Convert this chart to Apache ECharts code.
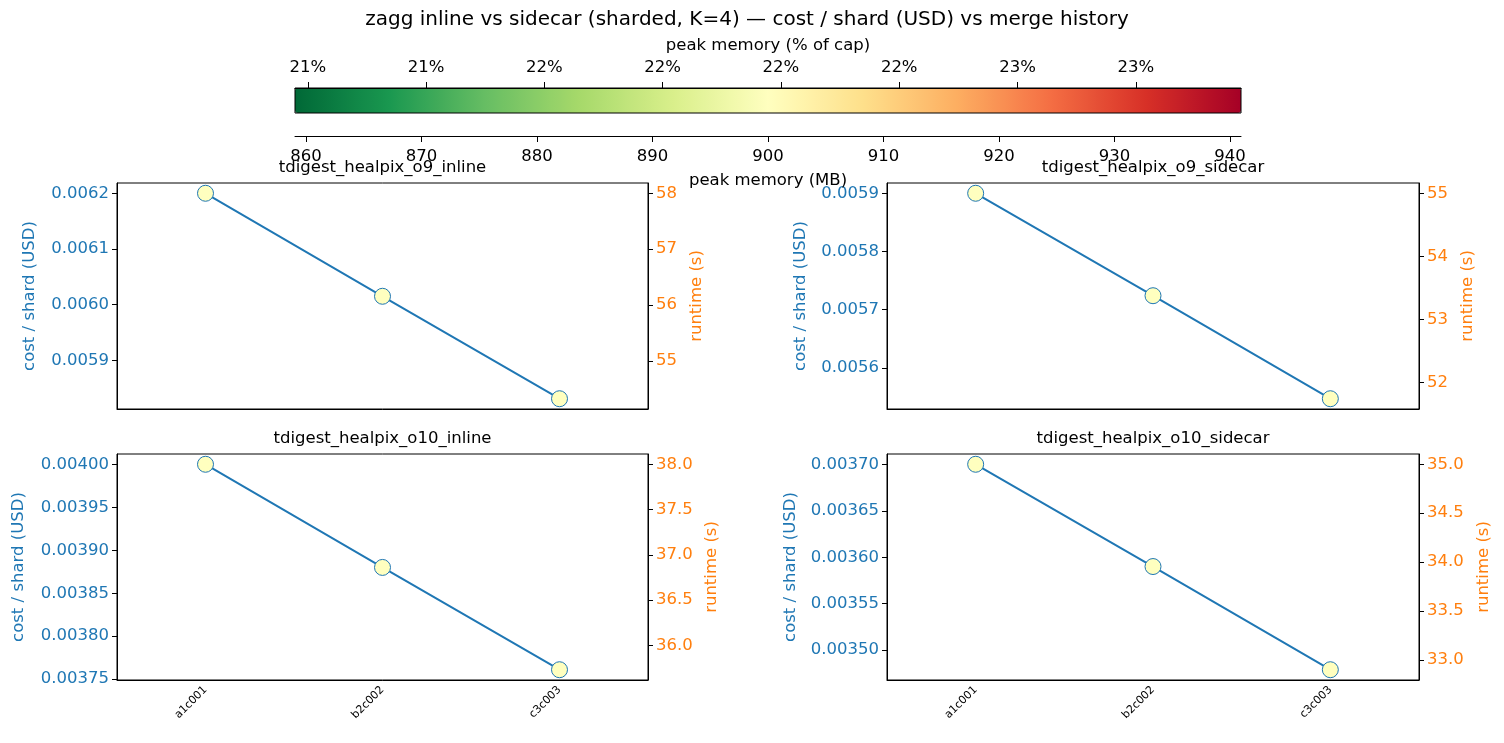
<!DOCTYPE html>
<html lang="en">
<head>
<meta charset="UTF-8">
<title>zagg inline vs sidecar</title>
<style>html,body{margin:0;padding:0;background:#fff;}</style>
</head>
<body>
<div id="main" style="width:1504px;height:743px"></div>
<script src="https://cdn.jsdelivr.net/npm/echarts@6/dist/echarts.min.js"></script>
<script>
    var chart = echarts.init(document.getElementById('main'));

    // data
    var categories = ['a1c001', 'b2c002', 'c3c003'];
    var panelTitles = ['tdigest_healpix_o9_inline', 'tdigest_healpix_o9_sidecar',
                       'tdigest_healpix_o10_inline', 'tdigest_healpix_o10_sidecar'];

    var costO9Inline   = [0.0062, 0.006015, 0.005831];
    var costO9Sidecar  = [0.0059, 0.005724, 0.005547];
    var costO10Inline  = [0.0040, 0.003880, 0.003761];
    var costO10Sidecar = [0.0037, 0.003590, 0.003479];

    var runO9Inline   = [58.0, 56.15, 54.32];
    var runO9Sidecar  = [55.0, 53.38, 51.74];
    var runO10Inline  = [38.0, 36.87, 35.73];
    var runO10Sidecar = [35.0, 33.95, 32.90];

    var memO9Inline   = [900, 900, 900];
    var memO9Sidecar  = [900, 900, 900];
    var memO10Inline  = [900, 900, 900];
    var memO10Sidecar = [900, 900, 900];

    // tick labels
    var costTicksO9Inline   = [0.0059, 0.0060, 0.0061, 0.0062];
    var costTicksO9Sidecar  = [0.0056, 0.0057, 0.0058, 0.0059];
    var costTicksO10Inline  = [0.00375, 0.00380, 0.00385, 0.00390, 0.00395, 0.00400];
    var costTicksO10Sidecar = [0.00350, 0.00355, 0.00360, 0.00365, 0.00370];
    var runTicksO9Inline   = [55, 56, 57, 58];
    var runTicksO9Sidecar  = [52, 53, 54, 55];
    var runTicksO10Inline  = [36.0, 36.5, 37.0, 37.5, 38.0];
    var runTicksO10Sidecar = [33.0, 33.5, 34.0, 34.5, 35.0];

    var memCap = 4096;               // MB
    var memMin = 859.05, memMax = 940.95;
    var memTicks = [860, 870, 880, 890, 900, 910, 920, 930, 940];
    var pctTicks = [21, 21.25, 21.5, 21.75, 22, 22.25, 22.5, 22.75];

    // RdYlGn reversed
    var rdYlGnR = ['#006837', '#1a9850', '#66bd63', '#a6d96a', '#d9ef8b', '#ffffbf',
                   '#fee08b', '#fdae61', '#f46d43', '#d73027', '#a50026'];

    var BLUE = '#1f77b4', ORANGE = '#ff7f0e';
    var FONT = 'DejaVu Sans';
    var FS = 16.5;

    var panels = [
        {cost: costO9Inline, run: runO9Inline, mem: memO9Inline, cTicks: costTicksO9Inline, rTicks: runTicksO9Inline, cDec: 4, rDec: 0,
         rect: {left: 117, top: 183, width: 531, height: 226}, lGap: 79, rGap: 40, xLabels: false},
        {cost: costO9Sidecar, run: runO9Sidecar, mem: memO9Sidecar, cTicks: costTicksO9Sidecar, rTicks: runTicksO9Sidecar, cDec: 4, rDec: 0,
         rect: {left: 887, top: 183, width: 532, height: 226}, lGap: 78, rGap: 40, xLabels: false},
        {cost: costO10Inline, run: runO10Inline, mem: memO10Inline, cTicks: costTicksO10Inline, rTicks: runTicksO10Inline, cDec: 5, rDec: 1,
         rect: {left: 117, top: 454, width: 531, height: 226}, lGap: 90, rGap: 55, xLabels: true},
        {cost: costO10Sidecar, run: runO10Sidecar, mem: memO10Sidecar, cTicks: costTicksO10Sidecar, rTicks: runTicksO10Sidecar, cDec: 5, rDec: 1,
         rect: {left: 887, top: 454, width: 532, height: 226}, lGap: 88, rGap: 56, xLabels: true}
    ];

    // matplotlib style 5% margins
    function padded(arr) {
        var lo = Math.min.apply(null, arr), hi = Math.max.apply(null, arr);
        var p = (hi - lo) * 0.05;
        return [lo - p, hi + p];
    }

    function fixed(d) {
        return function (v) { return v.toFixed(d); };
    }

    var grids = [], xAxes = [], yAxes = [], series = [], graphics = [];
    var scatterIdx = [];

    panels.forEach(function (p, i) {
        grids.push(Object.assign({show: true, borderColor: '#000', borderWidth: 1, backgroundColor: 'transparent'}, p.rect));
        xAxes.push({
            type: 'category', gridIndex: i, data: categories, boundaryGap: true,
            axisLine: {lineStyle: {color: '#000', width: 1}},
            axisTick: {alignWithLabel: true, length: 5, lineStyle: {color: '#000'}},
            axisLabel: {show: p.xLabels, rotate: 45, fontSize: 11, color: '#000', fontFamily: FONT, margin: 8}
        });
        var cr = padded(p.cost), rr = padded(p.run);
        yAxes.push({
            type: 'value', gridIndex: i, position: 'left', min: cr[0], max: cr[1],
            splitLine: {show: false},
            axisLine: {show: true, lineStyle: {color: '#000'}},
            axisTick: {show: true, length: 5, customValues: p.cTicks, lineStyle: {color: '#000'}},
            axisLabel: {customValues: p.cTicks, color: BLUE, fontSize: FS, fontFamily: FONT, margin: 8,
                        formatter: fixed(p.cDec)},
            name: 'cost / shard (USD)', nameLocation: 'middle', nameRotate: 90, nameGap: p.lGap,
            nameTextStyle: {color: BLUE, fontSize: FS, fontFamily: FONT}
        });
        yAxes.push({
            type: 'value', gridIndex: i, position: 'right', min: rr[0], max: rr[1],
            splitLine: {show: false},
            axisLine: {show: true, lineStyle: {color: '#000'}},
            axisTick: {show: true, length: 5, customValues: p.rTicks, lineStyle: {color: '#000'}},
            axisLabel: {customValues: p.rTicks, color: ORANGE, fontSize: FS, fontFamily: FONT, margin: 8,
                        formatter: fixed(p.rDec)},
            name: 'runtime (s)', nameLocation: 'middle', nameRotate: 90, nameGap: p.rGap,
            nameTextStyle: {color: ORANGE, fontSize: FS, fontFamily: FONT}
        });
        series.push({
            type: 'line', xAxisIndex: i, yAxisIndex: 2 * i, data: p.cost,
            showSymbol: false, symbol: 'none', lineStyle: {color: BLUE, width: 2}, z: 2
        });
        scatterIdx.push(series.length);
        series.push({
            type: 'scatter', xAxisIndex: i, yAxisIndex: 2 * i,
            data: categories.map(function (c, k) { return [k, p.cost[k], p.mem[k]]; }),
            encode: {x: 0, y: 1},
            symbol: 'circle', symbolSize: 16,
            itemStyle: {borderColor: BLUE, borderWidth: 1, opacity: 1}, z: 3
        });
        graphics.push({
            type: 'text', z: 10,
            style: {text: panelTitles[i], x: p.rect.left + p.rect.width / 2, y: p.rect.top - 15,
                    textAlign: 'center', textVerticalAlign: 'middle', font: FS + 'px "' + FONT + '"', fill: '#000'}
        });
    });

    // colour bar axes (top: % of cap, bottom: MB)
    grids.push({left: 295, top: 88, width: 946, height: 25, show: false, z: 10});
    xAxes.push({
        type: 'value', gridIndex: 4, position: 'top', z: 10, min: memMin / memCap * 100, max: memMax / memCap * 100,
        splitLine: {show: false}, axisLine: {show: true, onZero: false, lineStyle: {color: '#000'}},
        axisTick: {show: true, inside: false, length: 6, customValues: pctTicks, lineStyle: {color: '#000', width: 1}},
        axisLabel: {customValues: pctTicks, color: '#000', fontSize: FS, fontFamily: FONT, margin: 12,
                    formatter: function (v) { return Math.round(v) + '%'; }},
        name: 'peak memory (% of cap)', nameLocation: 'middle', nameGap: 34,
        nameTextStyle: {color: '#000', fontSize: FS, fontFamily: FONT}
    });
    yAxes.push({type: 'value', gridIndex: 4, show: false});

    grids.push({left: 295, top: 135, width: 946, height: 1, show: false, z: 10});
    xAxes.push({
        type: 'value', gridIndex: 5, position: 'bottom', z: 10, min: memMin, max: memMax,
        splitLine: {show: false}, axisLine: {show: true, onZero: false, lineStyle: {color: '#000'}},
        axisTick: {show: true, inside: false, length: 6, customValues: memTicks, lineStyle: {color: '#000', width: 1}},
        axisLabel: {customValues: memTicks, color: '#000', fontSize: FS, fontFamily: FONT, margin: 12},
        name: 'peak memory (MB)', nameLocation: 'middle', nameGap: 36,
        nameTextStyle: {color: '#000', fontSize: FS, fontFamily: FONT}
    });
    yAxes.push({type: 'value', gridIndex: 5, show: false});

    graphics.push({
        type: 'rect', z: 100, shape: {x: 295, y: 88, width: 946, height: 25},
        style: {fill: 'none', stroke: '#000', lineWidth: 1}
    });
    graphics.push({
        type: 'text', z: 10,
        style: {text: 'zagg inline vs sidecar (sharded, K=4) \u2014 cost / shard (USD) vs merge history',
                x: 747, y: 20, textAlign: 'center', textVerticalAlign: 'middle',
                font: '20px "' + FONT + '"', fill: '#000'}
    });

    var option = {
        animation: false,
        backgroundColor: '#fff',
        textStyle: {fontFamily: FONT},
        grid: grids,
        xAxis: xAxes,
        yAxis: yAxes,
        visualMap: {
            type: 'continuous', orient: 'horizontal', min: memMin, max: memMax,
            dimension: 2, seriesIndex: scatterIdx,
            left: 295, top: 88, itemWidth: 25, itemHeight: 946, padding: 0,
            calculable: false, hoverLink: false, text: null, showLabel: false,
            inRange: {color: rdYlGnR}
        },
        graphic: graphics,
        series: series
    };
    chart.setOption(option);
</script>
</body>
</html>
